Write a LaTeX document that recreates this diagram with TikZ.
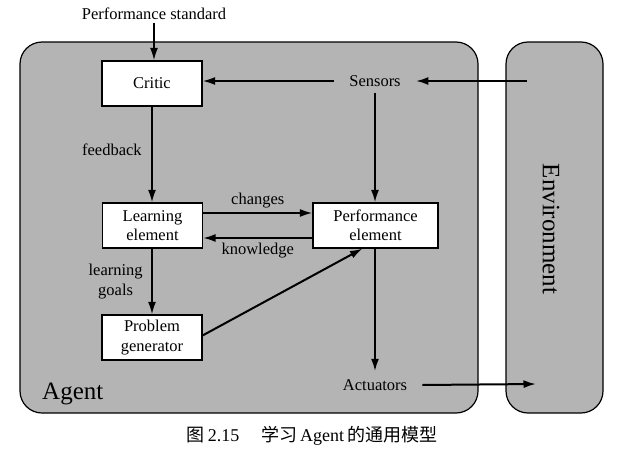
\documentclass[tikz,border=0pt]{standalone}
\usepackage{fontspec}
\setmainfont{Liberation Serif}
\newfontfamily\cjk{Noto Sans CJK SC}
\usetikzlibrary{arrows.meta}
\definecolor{agentgray}{RGB}{180,180,180}
\begin{document}
\begin{tikzpicture}[x=1pt,y=-1pt,
  every node/.style={font=\fontsize{16.5}{19.5}\selectfont},
  boxnode/.style={draw, fill=white, line width=1.1pt, minimum width=100pt, minimum height=45pt, align=center, inner sep=0pt},
  arr/.style={line width=2pt, -{Latex[length=12.5pt,width=8pt]}},
  region/.style={draw, line width=1.2pt, fill=agentgray, rounded corners=22pt}]
\useasboundingbox (0,0) rectangle (632,458);
\fill[white] (0,0) rectangle (632,458);
% regions
\draw[region] (20,42) rectangle (478,413);
\draw[region] (506,42) rectangle (603,413);
% labels of regions
\node[font=\fontsize{25}{28}\selectfont, anchor=base west, inner sep=0pt] (agentlbl) at (42,399) {Agent};
\node[font=\fontsize{25}{28}\selectfont, rotate=-90, inner sep=0pt] (envlbl) at (551,229) {Environment};
% boxes
\node[boxnode] (critic) at (152,83.5) {Critic};
\node[boxnode] (learn) at (152.5,225.5) {Learning\\element};
\node[boxnode, minimum width=125pt] (perf) at (375.5,225.5) {Performance\\element};
\node[boxnode] (prob) at (152,337.5) {Problem\\generator};
% text nodes
\node[inner xsep=15pt, inner ysep=6pt] (sensors) at (375,81) {Sensors};
\node[inner xsep=15pt, inner ysep=8pt] (act) at (375,385) {Actuators};
\node[inner sep=3pt] (pstd) at (154,14) {Performance standard};
\coordinate (envin) at (527,81);
\coordinate (envout) at (536,384);
% connectors
\draw[arr] (pstd.south) -- (critic.north -| pstd.south);
\draw[arr] (envin) -- (sensors.east);
\draw[arr] (sensors.west) -- (critic.east |- sensors.west);
\draw[arr] (sensors.south) -- (perf.north -| sensors.south);
\draw[arr] (critic.south) -- node[left=6pt, pos=0.45] (fb) {feedback} (learn.north -| critic.south);
\draw[arr] ([yshift=12.5pt]learn.east) -- node[above=1pt] (chg) {changes} ([yshift=12.5pt]perf.west);
\draw[arr] ([yshift=-12.5pt]perf.west) -- node[below=1pt] (knw) {knowledge} ([yshift=-12.5pt]learn.east);
\draw[arr] (learn.south -| critic.south) -- node[left=5pt, align=center, pos=0.5] (lg) {learning\\goals} (prob.north -| critic.south);
\draw[arr] ([yshift=2pt]prob.east) -- ([xshift=-13pt]perf.south);
\draw[arr] (perf.south -| sensors.south) -- (act.north);
\draw[arr] (act.east) -- (envout);
% caption
\node[font=\fontsize{18}{20}\selectfont, inner sep=0pt] (cap) at (312,436) {{\cjk 图}\,2.15\hspace{1.2em}{\cjk 学习}\,Agent\,{\cjk 的通用模型}};
\end{tikzpicture}
\end{document}
